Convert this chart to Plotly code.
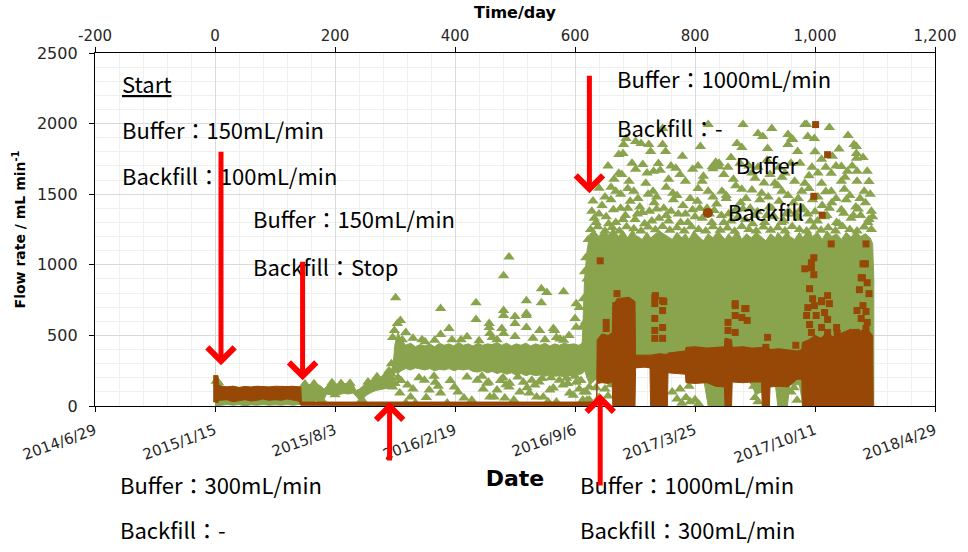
import plotly.graph_objects as go

# ---------------- DATA ----------------
# x = elapsed time in days (day 0 = 2015/1/15), y = flow rate (mL/min)
tick_days = [-200, 0, 200, 400, 600, 800, 1000, 1200]
top_tick_labels = ["-200", "0", "200", "400", "600", "800", "1,000", "1,200"]
date_tick_labels = ["2014/6/29", "2015/1/15", "2015/8/3", "2016/2/19",
                    "2016/9/6", "2017/3/25", "2017/10/11", "2018/4/29"]
y_ticks = [0, 500, 1000, 1500, 2000, 2500]

# Buffer: dense core of the point cloud (day, lower edge, upper edge)
buf_band_day = [0, 4, 8, 12, 20, 30, 40, 50, 60, 70, 80, 90, 100, 110, 120, 130, 140,
                145, 152, 160, 168, 175, 182, 186, 192, 200, 208, 215, 222, 230, 235,
                240, 246, 252, 260, 268, 276, 284, 292, 297,
                300, 305, 310, 318, 326, 334, 342, 350, 358, 366, 374, 382, 390, 398,
                406, 414, 422, 430, 438, 446, 454, 462, 470, 478, 486, 494, 502, 510,
                518, 526, 534, 542, 550, 558, 566, 574, 582, 590, 598, 606, 612,
                616, 620, 625, 632, 640, 648, 656, 664, 672, 680, 688, 696, 701, 712,
                720, 726, 740, 754, 762, 770, 778, 784, 790, 798, 806, 814, 822, 830,
                838, 846, 850, 856, 862, 870, 878, 886, 894, 902, 910, 918, 926, 934,
                938, 946, 954, 958, 966, 974, 980, 988, 996, 1004, 1012, 1020, 1028,
                1036, 1044, 1052, 1060, 1068, 1076, 1084, 1092, 1096, 1098]
buf_band_lo = [0, 0, 5, 5, 10, 5, 10, 0, 8, 5, 10, 5, 8, 5, 10, 5, 10,
               15, 30, 40, 35, 45, 50, 85, 80, 88, 82, 90, 85, 92, 70,
               45, 50, 75, 95, 110, 115, 125, 130, 180,
               240, 230, 250, 265, 255, 270, 260, 255, 265, 250, 260, 255, 265, 250,
               260, 255, 262, 245, 240, 250, 235, 245, 230, 240, 225, 235, 220, 230,
               215, 225, 215, 220, 210, 220, 210, 215, 205, 215, 210, 220, 230,
               250, 200, 150, 180, 200, 200, 200, 200, 200, 200, 200, 200, 300, 300,
               300, 300, 300, 280, 250, 250, 250, 250, 200, 200, 200, 200, 0, 0,
               0, 0, 0, 100, 200, 200, 200, 200, 150, 80, 100, 150, 200, 150,
               0, 0, 0, 150, 150, 150, 0, 0, 0, 0, 0, 0, 0,
               0, 0, 0, 0, 0, 0, 0, 0, 0, 0]
buf_band_hi = [165, 172, 160, 140, 135, 140, 132, 138, 130, 136, 130, 134, 128, 135, 130, 133, 128,
               148, 152, 150, 155, 145, 120, 140, 160, 158, 152, 160, 155, 150, 110,
               118, 140, 165, 182, 200, 205, 212, 222, 300,
               440, 520, 470, 430, 445, 420, 435, 425, 440, 420, 445, 430, 440, 425,
               450, 430, 440, 425, 445, 430, 440, 435, 450, 430, 445, 425, 440, 430,
               445, 425, 440, 430, 445, 425, 440, 430, 445, 435, 440, 430, 440,
               900, 1100, 1220, 1240, 1200, 1250, 1210, 1260, 1200, 1240, 1190, 1250, 1210, 1180,
               1230, 1190, 1240, 1200, 1180, 1230, 1190, 1220, 1180, 1240, 1200, 1170, 1220, 1190,
               1240, 1200, 1180, 1220, 1190, 1240, 1180, 1220, 1190, 1230, 1200, 1170, 1220, 1190,
               1230, 1190, 1240, 1200, 1180, 1230, 1190, 1250, 1200, 1230, 1180, 1240, 1200,
               1220, 1180, 1230, 1195, 1240, 1200, 1220, 1190, 1150, 900]

# Buffer: individual scattered readings outside the dense core
buf_day = [301, 490, 481, 376, 435, 435, 544, 553, 581, 519, 544, 519, 519, 481, 481, 500, 500,
           457, 457, 478, 481, 500, 462, 390, 376, 366, 304, 299, 296, 602, 564, 581, 569,
           410, 519, 541, 566, 602, 607, 630, 458, 309, 330, 345, 420, 530, 590, 600, 612,
           350, 395, 440, 470, 550, 575, 318, 312,
           296, 308, 321, 326, 334, 318, 349, 357, 367, 376, 387, 399, 415, 437, 453, 458,
           470, 490, 498, 514, 524, 533, 547, 558, 569, 580, 591, 602, 613, 624, 456, 491,
           528, 574, 586, 564, 508, 465, 483, 536, 597, 619, 624, 340, 365, 420, 445, 480,
           505, 545, 560, 600, 305, 300,
           310, 330, 352, 372, 392, 405, 428, 447, 476, 485, 520, 540, 555, 588, 607,
           2, 6, 150, 165, 195, 210, 225, 255, 270, 285, 293, 160, 178, 200, 245, 290, 294,
           605, 610, 615, 620, 628, 635, 640, 645, 650, 655, 660, 608, 612, 618, 614, 620,
           770, 778, 785, 792, 800, 806, 762, 790, 775, 900, 905, 908, 960, 970, 965, 898,
           880, 928, 983, 1024, 1055, 905, 913, 961, 955, 988, 999, 870, 878, 809, 685, 710,
           746, 726, 680, 779, 751, 971, 1069, 1069, 1069, 1029, 1011, 713, 739, 673, 701,
           731, 768, 796, 814, 1027, 1054, 1070, 1087, 665, 690, 718, 756, 784, 812, 864,
           900, 933, 966, 983, 1011, 1044, 1070, 640, 630, 668, 698, 730, 763, 822, 845,
           878, 911, 945, 978, 1027, 1049, 1082,
           673, 681, 701, 723, 746, 822, 955, 986, 1065, 1044, 963, 921,
           840, 855, 890, 920, 940, 950, 975, 995, 1005, 1035, 895, 925, 860, 1000, 1040, 1080,
           628, 635, 645, 652, 660, 668, 676, 684, 692, 700, 708, 716, 724, 732, 740, 748,
           756, 764, 772, 780, 788, 796, 804, 812, 820, 828, 836, 844, 852, 860, 868, 876,
           884, 892, 900, 908, 916, 924, 932, 940, 948, 956, 964, 972, 980, 988, 996, 1004,
           1012, 1020, 1028, 1036, 1044, 1052, 1060, 1068, 1076, 1084, 1090, 1094,
           632, 656, 680, 704, 728, 752, 776, 800, 824, 848, 872, 896, 920, 944, 968, 992,
           1016, 1040, 1064, 1088, 618, 622, 616,
           650, 660, 676, 688, 705, 722, 736, 752, 770, 792, 805, 830, 852, 868, 885, 895,
           922, 938, 955, 972, 990, 1005, 1018, 1035, 1058, 1075, 1092,
           655, 678, 695, 720, 742, 760, 775, 805, 830, 848, 875, 905, 915, 945, 960, 990,
           1018, 1050, 1062, 1090,
           626, 638, 650, 662, 674, 686, 698, 710, 722, 734, 746, 758, 770, 782, 794, 806,
           818, 830, 842, 854, 866, 878, 890, 902, 914, 926, 938, 950, 962, 974, 986, 998,
           1010, 1022, 1034, 1046, 1058, 1070, 1082, 1094,
           640, 664, 688, 712, 736, 760, 784, 808, 832, 856, 880, 904, 928, 952, 976, 1000,
           1024, 1048, 1072, 1096]
buf_val = [767, 1056, 923, 690, 732, 613, 831, 803, 810, 746, 732, 641, 556, 676, 641, 634, 585,
           585, 556, 549, 514, 493, 486, 549, 507, 465, 585, 535, 486, 725, 549, 465, 486,
           470, 655, 535, 535, 557, 697, 584, 514, 605, 480, 470, 490, 480, 500, 620, 560,
           455, 470, 462, 470, 470, 475, 520, 470,
           134, 92, 148, 63, 21, 21, 183, 113, 169, 92, 21, 134, 56, 183, 162, 63,
           113, 134, 42, 169, 92, 148, 63, 113, 28, 148, 92, 169, 42, 134, 169, 162,
           183, 183, 197, 127, 99, 63, 56, 63, 77, 99, 42, 200, 210, 205, 210, 200,
           205, 195, 200, 210, 200, 160,
           180, 120, 60, 140, 180, 100, 40, 120, 180, 150, 130, 170, 30, 160, 120,
           175, 165, 155, 158, 165, 160, 162, 170, 208, 218, 228, 35, 40, 80, 45, 250, 300,
           250, 180, 100, 40, 220, 130, 60, 190, 120, 70, 150, 320, 420, 600, 760, 900,
           50, 20, 60, 30, 45, 15, 100, 140, 120, 60, 30, 110, 100, 40, 130, 140,
           1993, 1965, 1993, 1972, 1915, 1930, 1908, 1894, 1852, 1908, 1894, 1859, 1831, 1838, 1894, 1859,
           1852, 1803, 1789, 1768, 1803, 1803, 1838, 1789, 1754, 1768, 1747, 1711, 1718, 1648, 1676,
           1662, 1683, 1676, 1627, 1648, 1662, 1662, 1662, 1606, 1592, 1577, 1606, 1592, 1592, 1606,
           1613, 1577, 1592, 1577, 1577, 1592, 1592, 1542, 1451, 1521, 1521, 1521, 1507, 1521, 1521,
           1535, 1507, 1521, 1521, 1521, 1535, 1521,
           1782, 1852, 1873, 1852, 1965, 1993, 1922, 1993, 1852, 1697, 1887, 1824,
           1720, 1690, 1700, 1740, 1690, 1650, 1720, 1690, 1650, 1700, 1650, 1640, 1760, 1800, 1820, 1760,
           1380, 1300, 1420, 1340, 1460, 1300, 1400, 1350, 1450, 1320, 1410, 1290, 1380, 1440, 1330, 1400,
           1310, 1460, 1360, 1420, 1300, 1390, 1450, 1330, 1400, 1300, 1430, 1350, 1470, 1310, 1390, 1440,
           1320, 1400, 1350, 1460, 1300, 1410, 1340, 1450, 1310, 1380, 1440, 1330, 1400, 1360, 1460, 1310,
           1420, 1350, 1440, 1300, 1390, 1460, 1330, 1410, 1350, 1440, 1320, 1380,
           1330, 1290, 1320, 1360, 1310, 1350, 1300, 1340, 1360, 1300, 1340, 1290, 1350, 1300, 1360, 1310,
           1340, 1290, 1350, 1300, 1050, 1180, 950,
           1480, 1550, 1500, 1540, 1470, 1500, 1480, 1550, 1490, 1470, 1540, 1480, 1490, 1560, 1470, 1530,
           1480, 1560, 1490, 1470, 1540, 1480, 1520, 1470, 1490, 1470, 1500,
           1700, 1640, 1720, 1650, 1670, 1700, 1640, 1700, 1680, 1640, 1720, 1690, 1580, 1620, 1720, 1630,
           1690, 1620, 1700, 1590,
           1250, 1270, 1240, 1265, 1240, 1270, 1255, 1240, 1268, 1248, 1272, 1245, 1262, 1240, 1270, 1250,
           1240, 1270, 1245, 1260, 1238, 1272, 1250, 1240, 1268, 1245, 1262, 1240, 1272, 1250, 1240, 1268,
           1245, 1262, 1240, 1272, 1250, 1240, 1268, 1250,
           1360, 1390, 1400, 1370, 1395, 1380, 1360, 1400, 1385, 1360, 1395, 1375, 1400, 1360, 1390, 1375,
           1400, 1365, 1395, 1340]

# Backfill: dense core (day, lower edge, upper edge)
bf_band_day = [-3, 5, 6, 10, 20, 30, 40, 50, 60, 70, 80, 90, 100, 110, 120, 130, 140, 143,
               144, 625, 636, 637, 645, 655, 662, 663, 670, 690, 700, 701, 715, 725, 726,
               740, 754, 755, 770, 784, 785, 800, 820, 834, 849, 850, 861, 862, 880, 895,
               911, 912, 924, 925, 940, 955, 970, 978, 979, 990, 1000, 1010, 1020, 1030,
               1040, 1050, 1060, 1070, 1080, 1090, 1096, 1097]
bf_band_lo = [30, 25, 40, 40, 45, 30, 40, 45, 35, 40, 50, 40, 45, 40, 50, 40, 35, 5,
              0, 0, 0, 160, 165, 160, 170, 0, 0, 0, 0, 270, 275, 270, 0,
              0, 0, 235, 230, 225, 165, 160, 165, 140, 135, 0, 0, 170, 165, 170,
              170, 0, 0, 135, 140, 135, 190, 190, 0, 0, 0, 0, 0, 0,
              0, 0, 0, 0, 0, 0, 0, 0]
bf_band_hi = [215, 215, 150, 140, 135, 140, 130, 138, 135, 140, 138, 135, 140, 137, 138, 140, 138, 135,
              28, 28, 28, 470, 510, 500, 520, 700, 760, 770, 740, 360, 360, 365, 360,
              370, 365, 375, 380, 390, 415, 420, 410, 415, 420, 480, 470, 415, 420, 410,
              415, 415, 410, 400, 405, 400, 390, 400, 450, 470, 500, 480, 520, 490,
              510, 530, 545, 520, 540, 530, 500, 0]

# Backfill: individual scattered readings
bf_day = [1001, 1021, 998, 1012, 1027, 1085, 642, 998, 994, 983, 1080, 1077, 1087, 1090, 1074,
          998, 991, 670, 734, 748, 867, 883, 1011, 1021, 683, 668, 652, 652, 733, 733, 746,
          746, 733, 746, 733, 733, 746, 994, 996, 1011, 1024, 999, 988, 1016, 1002, 986,
          1021, 991, 1011, 1036, 994, 1021, 1037, 1084, 1079, 1080, 1070, 1085, 1077, 1087,
          1069, 1085, 867, 867, 885, 878, 887, 855, 855, 867, 855, 921, 918, 968]
bf_val = [1993, 1780, 1485, 1352, 1148, 1148, 1028, 1050, 979, 972, 1007, 908, 873, 796, 824,
          930, 831, 796, 782, 739, 725, 690, 746, 782, 732, 711, 592, 549, 768, 725, 746,
          676, 620, 556, 535, 479, 479, 1014, 760, 739, 725, 711, 697, 662, 641, 641,
          613, 577, 556, 556, 521, 521, 514, 1007, 908, 711, 676, 669, 620, 592,
          521, 549, 711, 641, 690, 627, 606, 592, 535, 521, 437, 486, 415, 430]

# ---------------- STYLE ----------------
GREEN = "#8aa34d"
BROWN = "#974806"
TICK_FONT = dict(family="DejaVu Sans", size=15, color="#262626")
NOTE_FONT = dict(family="Noto Sans CJK JP", size=22, color="black")

fig = go.Figure()

# Buffer dense core polygon
fig.add_trace(go.Scatter(
    x=buf_band_day + buf_band_day[::-1], y=buf_band_hi + buf_band_lo[::-1],
    fill="toself", fillcolor=GREEN, mode="lines", line=dict(color=GREEN, width=1),
    showlegend=False, hoverinfo="skip"))
fig.add_trace(go.Scatter(
    x=buf_day, y=buf_val, mode="markers",
    marker=dict(symbol="triangle-up", size=10, color=GREEN),
    showlegend=False))
# Backfill (drawn on overlaying axis so it sits on top)
fig.add_trace(go.Scatter(
    x=bf_band_day + bf_band_day[::-1], y=bf_band_hi + bf_band_lo[::-1],
    fill="toself", fillcolor=BROWN, mode="lines", line=dict(color=BROWN, width=1),
    xaxis="x2", showlegend=False, hoverinfo="skip"))
fig.add_trace(go.Scatter(
    x=bf_day, y=bf_val, mode="markers", xaxis="x2",
    marker=dict(symbol="square", size=7, color=BROWN),
    showlegend=False))

# legend entries
fig.add_trace(go.Scatter(x=[None], y=[None], mode="markers", name="Buffer",
                         marker=dict(symbol="triangle-up", size=16, color=GREEN),
                         legend="legend"))
fig.add_trace(go.Scatter(x=[None], y=[None], mode="markers", name="Backfill",
                         marker=dict(symbol="circle", size=10, color=BROWN),
                         legend="legend2"))

L, R, T, B = 95, 27, 51, 146
W, H = 968, 552
PW, PH = W - L - R, H - T - B


def px(x):
    return (x - L) / PW


def py(y):
    return (H - B - y) / PH


fig.update_layout(
    width=W, height=H,
    margin=dict(l=L, r=R, t=T, b=B),
    paper_bgcolor="white", plot_bgcolor="white",
    legend=dict(x=px(700), y=py(164), xanchor="left", yanchor="middle",
                font=NOTE_FONT, bgcolor="rgba(0,0,0,0)", itemwidth=30),
    legend2=dict(x=px(692), y=py(212), xanchor="left", yanchor="middle",
                 font=NOTE_FONT, bgcolor="rgba(0,0,0,0)", itemwidth=30),
    xaxis=dict(range=[-200, 1200], tickmode="array", tickvals=tick_days,
               ticktext=date_tick_labels, tickangle=-20, tickfont=TICK_FONT,
               ticks="outside", ticklen=5, tickcolor="black",
               showline=True, linecolor="black", linewidth=1.3,
               showgrid=True, gridcolor="#d9d9d9", gridwidth=1, zeroline=False,
               minor=dict(tick0=-200, dtick=40, showgrid=True, gridcolor="#f0f0f0"),
               title=dict(text="<b>Date</b>", font=dict(family="DejaVu Sans", size=22, color="black"),
                          standoff=4),
               ticklabelstandoff=4),
    xaxis2=dict(range=[-200, 1200], overlaying="x", side="top", anchor="y",
                tickmode="array", tickvals=tick_days, ticktext=top_tick_labels,
                tickfont=TICK_FONT, ticks="outside", ticklen=5, tickcolor="black",
                showline=True, linecolor="black", linewidth=1.3, showgrid=False, zeroline=False,
                title=dict(text="<b>Time/day</b>", font=dict(family="DejaVu Sans", size=16, color="black"),
                           standoff=4)),
    yaxis=dict(range=[0, 2500], tickmode="array", tickvals=y_ticks,
               tickfont=dict(family="DejaVu Sans", size=16, color="#262626"),
               ticks="outside", ticklen=5, tickcolor="black",
               showline=True, linecolor="black", linewidth=1.3, mirror=True,
               showgrid=True, gridcolor="#d9d9d9", zeroline=False,
               minor=dict(dtick=100, showgrid=True, gridcolor="#f0f0f0"),
               ticklabelstandoff=8,
               title=dict(text="<b>Flow rate / mL min<sup>-1</sup></b>",
                          font=dict(family="DejaVu Sans", size=14, color="black"), standoff=8)),
)

notes = [
    ("<u>Start</u>", 120, 81),
    ("Buffer：150mL/min", 120, 127),
    ("Backfill：100mL/min", 120, 174),
    ("Buffer：150mL/min", 252, 217),
    ("Backfill：Stop", 252, 265),
    ("Buffer：1000mL/min", 619, 76),
    ("Backfill：-", 619, 125),
    ("Buffer：300mL/min", 118, 484),
    ("Backfill：-", 118, 530),
    ("Buffer：1000mL/min", 581, 484),
    ("Backfill：300mL/min", 581, 530),
]
for txt, x0, y0 in notes:
    fig.add_annotation(text=txt, xref="paper", yref="paper", x=px(x0), y=py(y0),
                       xanchor="left", yanchor="middle", showarrow=False, font=NOTE_FONT)

# red arrows: (day, flow at arrow tip, tail pixel offset)
arrows = [(10, 289, -215), (146, 183, -120), (291, 28, 60), (624, 1507, -119), (642, 85, 93)]
for d, v, off in arrows:
    fig.add_annotation(x=d, y=v, xref="x", yref="y", ax=0, ay=off, showarrow=True,
                       arrowhead=4, arrowsize=1.05, arrowwidth=5, arrowcolor="#ff0000",
                       text="", standoff=0)

fig.write_html("out.html")
